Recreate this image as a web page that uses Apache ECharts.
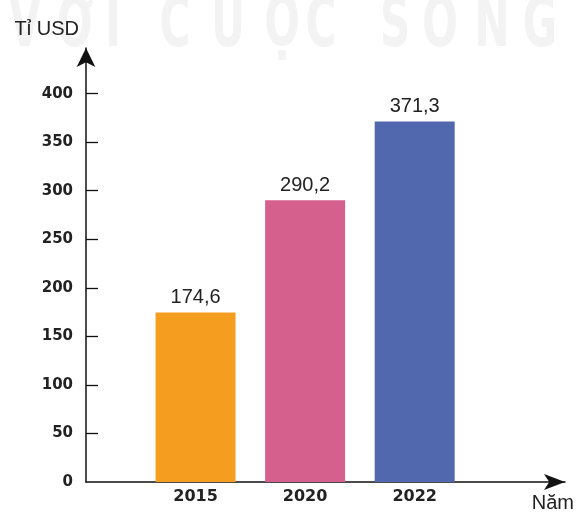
<!DOCTYPE html>
<html>
<head>
<meta charset="utf-8">
<script src="https://cdn.jsdelivr.net/npm/echarts@6/dist/echarts.min.js"></script>
<style>
  html, body { margin: 0; padding: 0; background: #fff; }
  #chart { width: 577px; height: 513px; }
</style>
</head>
<body>
<div id="chart"></div>
<script>
// du lieu
var years = ['2015', '2020', '2022'];
var values = [174.6, 290.2, 371.3];
var colors = ['#F59D1F', '#D6608D', '#5167AE'];
var yTicks = [0, 50, 100, 150, 200, 250, 300, 350, 400];

// chu mo phia tren (watermark)
var wmLetters = ['V', 'Ớ', 'I', 'C', 'U', 'Ộ', 'C', 'S', 'Ố', 'N', 'G'];
var wmX = [25, 75, 113, 175, 228, 282, 321, 395, 440, 492, 540];

var chart = echarts.init(document.getElementById('chart'));

var barData = values.map(function (v, i) {
  return { value: [i + 1, v], itemStyle: { color: colors[i] } };
});

var wm = wmLetters.map(function (ch, i) {
  return {
    type: 'text',
    x: wmX[i],
    y: 28,
    scaleX: 0.6,
    silent: true,
    z: -10,
    style: {
      text: ch,
      fontSize: 70,
      fontWeight: 'bold',
      fontFamily: 'DejaVu Sans',
      align: 'center',
      verticalAlign: 'middle',
      fill: '#f3f3f3'
    }
  };
});

var option = {
  animation: false,
  graphic: wm,
  grid: {
    left: 86,
    right: 9,
    top: 48,
    bottom: 29
  },
  xAxis: {
    type: 'value',
    min: 0,
    max: 4.372,
    name: 'Năm',
    nameLocation: 'end',
    nameGap: 9,
    nameTextStyle: {
      color: '#222',
      fontSize: 20,
      fontFamily: 'Liberation Sans, Arial',
      align: 'right',
      verticalAlign: 'top',
      padding: [11, 0, 0, 0]
    },
    axisLine: {
      lineStyle: { color: '#111', width: 1.5 },
      symbol: ['none', 'arrow'],
      symbolSize: [12, 21]
    },
    axisTick: { show: false },
    splitLine: { show: false },
    axisLabel: {
      customValues: [1, 2, 3],
      formatter: function (v) { return years[Math.round(v) - 1] || ''; },
      color: '#222',
      fontWeight: 'bold',
      fontSize: 16,
      fontFamily: 'DejaVu Sans',
      margin: 7
    }
  },
  yAxis: {
    type: 'value',
    min: 0,
    max: 447,
    name: 'Tỉ USD',
    nameLocation: 'end',
    nameGap: 9,
    nameTextStyle: {
      color: '#222',
      fontSize: 20,
      fontFamily: 'Liberation Sans, Arial',
      align: 'right',
      padding: [0, 7, 0, 0]
    },
    axisLine: {
      show: true,
      lineStyle: { color: '#111', width: 1.5 },
      symbol: ['none', 'arrow'],
      symbolSize: [14, 19]
    },
    axisTick: {
      show: true,
      inside: true,
      length: 12,
      customValues: yTicks.slice(1),
      lineStyle: { color: '#111', width: 1.3 }
    },
    splitLine: { show: false },
    axisLabel: {
      customValues: yTicks,
      color: '#222',
      fontWeight: 'bold',
      fontSize: 15,
      fontFamily: 'DejaVu Sans',
      margin: 13,
      padding: [0, 0, 14, 0]
    }
  },
  series: [{
    type: 'bar',
    barWidth: 80,
    data: barData,
    label: {
      show: true,
      position: 'top',
      distance: 5,
      color: '#222',
      fontSize: 20,
      fontFamily: 'Liberation Sans, Arial',
      formatter: function (p) { return String(p.value[1]).replace('.', ','); }
    }
  }]
};

chart.setOption(option);
</script>
</body>
</html>
